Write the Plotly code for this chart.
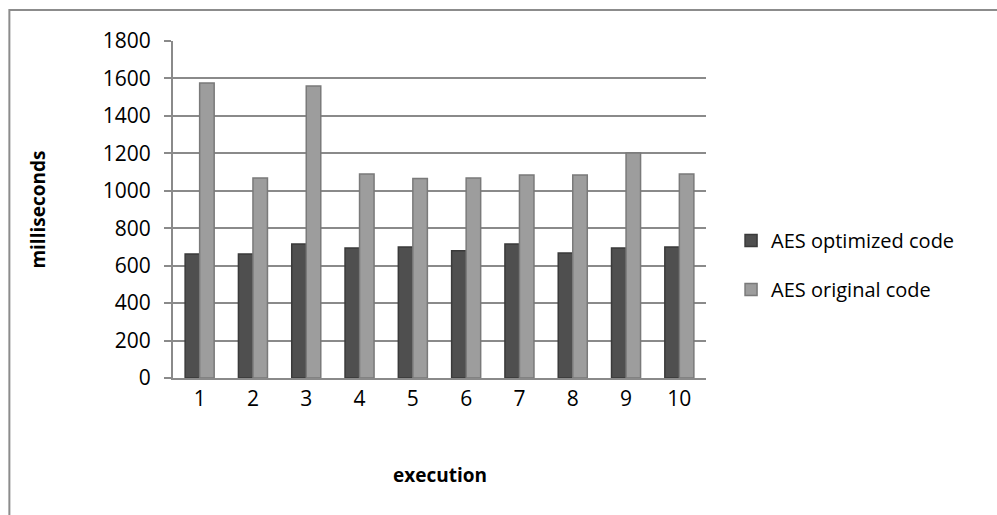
import plotly.graph_objects as go

executions = ["1", "2", "3", "4", "5", "6", "7", "8", "9", "10"]
aes_optimized = [662, 662, 716, 694, 700, 680, 716, 668, 694, 700]
aes_original = [1576, 1068, 1560, 1090, 1066, 1068, 1084, 1084, 1202, 1090]
y_ticks = [0, 200, 400, 600, 800, 1000, 1200, 1400, 1600, 1800]

FONT = "Open Sans"
GRID = "#8a8a8a"

fig = go.Figure()
fig.add_trace(go.Bar(
    x=executions, y=aes_optimized, name="AES optimized code",
    legendgroup="a",
    marker=dict(color="#4f4f4f", line=dict(color="#3a3a3a", width=1.5)),
))
fig.add_trace(go.Bar(
    x=executions, y=aes_original, name="AES original code",
    legendgroup="b",
    marker=dict(color="#9d9d9d", line=dict(color="#7a7a7a", width=1.5)),
))

# outer chart frame
fig.add_shape(type="rect", xref="paper", yref="paper",
              x0=-0.307, y0=-0.45, x1=1.6, y1=1.092,
              line=dict(color="#8c8c8c", width=2), fillcolor="rgba(0,0,0,0)",
              layer="below")

fig.add_annotation(text="<b>milliseconds</b>", textangle=-90,
                   xref="paper", yref="paper", x=-0.255, y=0.5,
                   xanchor="center", yanchor="middle",
                   showarrow=False, font=dict(family=FONT, size=19, color="#000"))
fig.add_annotation(text="<b>execution</b>",
                   xref="paper", yref="paper", x=0.5, y=-0.288,
                   xanchor="center", yanchor="middle",
                   showarrow=False, font=dict(family=FONT, size=19, color="#000"))

fig.update_layout(
    width=997, height=515,
    margin=dict(l=173, r=291, t=41, b=137),
    paper_bgcolor="white", plot_bgcolor="white",
    barmode="group", bargap=0.455, bargroupgap=0.0,
    font=dict(family=FONT, size=20, color="#000"),
    legend=dict(x=1.047, y=0.335, xanchor="left", yanchor="middle",
                font=dict(family=FONT, size=20), tracegroupgap=20,
                itemwidth=30, bgcolor="rgba(0,0,0,0)"),
    showlegend=True,
)
fig.update_xaxes(
    type="category", showgrid=False, showline=True, linecolor=GRID, linewidth=2,
    ticks="", ticklabelstandoff=1, tickfont=dict(family=FONT, size=21),
)
fig.update_yaxes(
    range=[0, 1800], tickvals=y_ticks, showgrid=True, gridcolor=GRID, gridwidth=2,
    showline=True, linecolor=GRID, linewidth=2, ticks="outside", ticklen=7,
    tickcolor=GRID, tickwidth=2, ticklabelstandoff=9, zeroline=False,
    tickfont=dict(family=FONT, size=21),
)

fig.write_html("out.html")
